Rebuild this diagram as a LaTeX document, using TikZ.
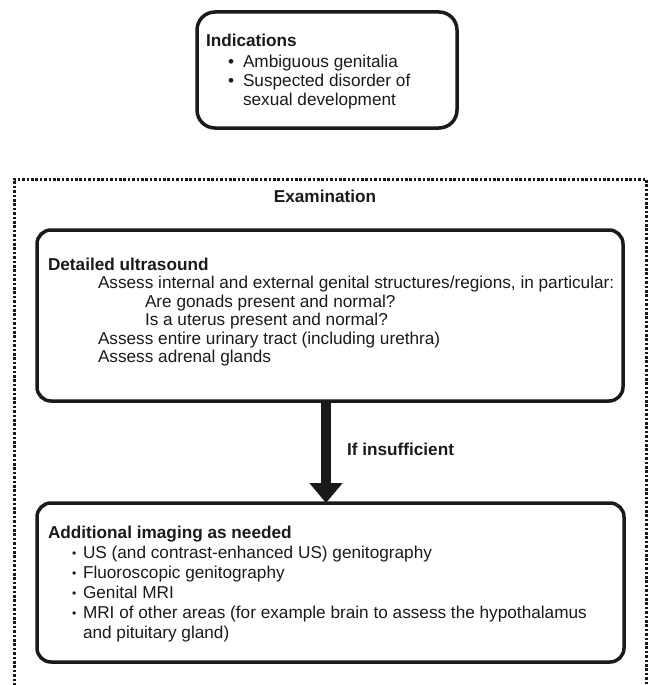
\documentclass[tikz,border=0pt]{standalone}
\usepackage{fontspec}
\setmainfont{Liberation Sans}
\usetikzlibrary{arrows.meta}
\definecolor{ink}{HTML}{1A1A1A}
\tikzset{
  every node/.style={inner sep=0pt, outer sep=0pt, text=ink},
  roundbox/.style={draw=ink, line width=3.5pt, rounded corners=#1, minimum width=0pt},
  txt/.style={anchor=base west, font=\fontsize{17.2}{18}\selectfont},
  btxt/.style={anchor=base west, font=\fontsize{17.2}{18}\selectfont\bfseries},
  bul/.style={anchor=base west, font=\fontsize{17.2}{18}\selectfont},
  sbul/.style={anchor=base west, font=\fontsize{12}{12}\selectfont},
  frame/.style={draw=ink, line width=3pt, dash pattern=on 2.6pt off 1.8pt},
  bigarrow/.style={draw=ink, line width=10pt, -{Triangle[width=32pt,length=20pt]}}
}
\begin{document}
\begin{tikzpicture}[x=1pt,y=-1pt]
\useasboundingbox (0,0) rectangle (649,685);

% dotted examination frame (open at the bottom)
\coordinate (fbl) at (14,690);
\coordinate (ftl) at (14,179);
\coordinate (ftr) at (646,179);
\coordinate (fbr) at (646,690);
\draw[frame] (fbl) -- (ftl) -- (ftr) -- (fbr);

% Indications box
\node[roundbox=18pt, minimum width=260pt, minimum height=116pt] (ind) at (327,70) {};
\node[btxt] (indt) at (206,47) {Indications};
\node[bul] (ib1) at (228,67) {•};
\node[txt] (i1) at (243,67) {Ambiguous genitalia};
\node[bul] (ib2) at (228,86) {•};
\node[txt] (i2) at (243,86) {Suspected disorder of};
\node[txt] (i3) at (243,105) {sexual development};

% Examination title
\node[font=\fontsize{17.2}{18}\selectfont\bfseries, anchor=base] (exam) at (325,202) {Examination};

% Detailed ultrasound box
\node[roundbox=14pt, minimum width=586pt, minimum height=171pt] (us) at (330,315.5) {};
\node[btxt] (ust) at (48,270) {Detailed ultrasound};
\node[txt] (u1) at (98,288.5) {Assess internal and external genital structures/regions, in particular:};
\node[txt] (u2) at (145,307) {Are gonads present and normal?};
\node[txt] (u3) at (145,325.5) {Is a uterus present and normal?};
\node[txt] (u4) at (98,344) {Assess entire urinary tract (including urethra)};
\node[txt] (u5) at (98,362.5) {Assess adrenal glands};

% Additional imaging box
\node[roundbox=14pt, minimum width=587pt, minimum height=159pt] (add) at (330.5,582.5) {};
\node[btxt] (addt) at (48,538) {Additional imaging as needed};
\node[sbul] (ab1) at (72,557) {•};
\node[txt] (a1) at (83,558) {US (and contrast-enhanced US) genitography};
\node[sbul] (ab2) at (72,577) {•};
\node[txt] (a2) at (83,578) {Fluoroscopic genitography};
\node[sbul] (ab3) at (72,597) {•};
\node[txt] (a3) at (83,598) {Genital MRI};
\node[sbul] (ab4) at (72,617) {•};
\node[txt] (a4) at (83,618) {MRI of other areas (for example brain to assess the hypothalamus};
\node[txt] (a5) at (83,638) {and pituitary gland)};

% connector
\draw[bigarrow] (us.south -| 326,0) -- (add.north -| 326,0);
\node[btxt] (ifi) at (347,455) {If insufficient};
\end{tikzpicture}
\end{document}
